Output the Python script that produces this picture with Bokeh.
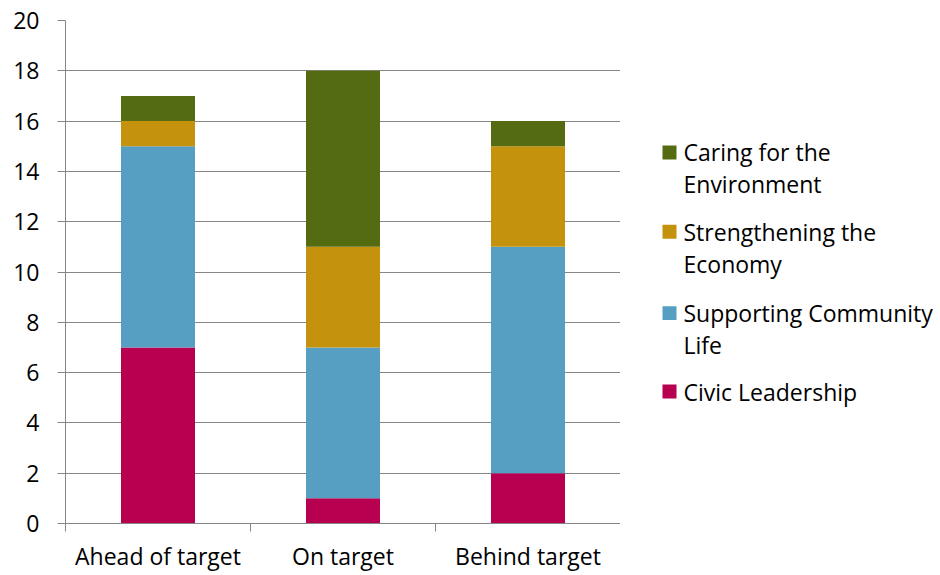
from bokeh.plotting import figure
from bokeh.layouts import row
from bokeh.models import FixedTicker, ColumnDataSource, Range1d
from bokeh.core.properties import value
from bokeh.embed import file_html
from bokeh.resources import INLINE

categories = ["Ahead of target", "On target", "Behind target"]
series_keys = ["civic", "supporting", "strengthening", "caring"]
legend_lines = [["Civic Leadership"],
                ["Supporting Community", "Life"],
                ["Strengthening the", "Economy"],
                ["Caring for the", "Environment"]]
civic = [7, 1, 2]
supporting = [8, 6, 9]
strengthening = [1, 4, 4]
caring = [1, 7, 1]
colors = ["#B7004F", "#579FC2", "#C5920E", "#546B12"]
y_ticks = list(range(0, 21, 2))

FONT = "Open Sans"
FSIZE = "23px"
GRAY = "#868686"
H = 570
TOP, BOTTOM = 20, 523

p = figure(frame_width=555, frame_height=BOTTOM - TOP, x_range=(0, 3),
           y_range=(0, 20), output_backend="svg", toolbar_location=None,
           min_border_left=65, min_border_right=0, min_border_top=TOP,
           min_border_bottom=H - BOTTOM)
p.outline_line_color = None
p.xgrid.grid_line_color = None
p.ygrid.grid_line_color = GRAY
p.ygrid.grid_line_width = 1

xs = [i + 0.5 for i in range(len(categories))]
src = ColumnDataSource(dict(x=xs, civic=civic, supporting=supporting,
                            strengthening=strengthening, caring=caring))
p.vbar_stack(series_keys, x="x", width=0.4, color=colors, line_color=None,
             source=src)

# y axis
p.yaxis.ticker = FixedTicker(ticks=y_ticks)
p.yaxis.axis_line_color = GRAY
p.yaxis.major_tick_line_color = GRAY
p.yaxis.major_tick_in = 0
p.yaxis.major_tick_out = 8
p.yaxis.minor_tick_line_color = None
p.yaxis.major_label_text_font = FONT
p.yaxis.major_label_text_font_size = FSIZE
p.yaxis.major_label_text_color = "#000000"
p.yaxis.major_label_standoff = 18

# x axis: labels at category centres, tick marks at category boundaries
p.xaxis.ticker = FixedTicker(ticks=xs, minor_ticks=[0, 1, 2, 3])
p.xaxis.major_label_overrides = {x: c for x, c in zip(xs, categories)}
p.xaxis.axis_line_color = GRAY
p.xaxis.major_tick_line_color = None
p.xaxis.major_tick_in = 0
p.xaxis.major_tick_out = 0
p.xaxis.minor_tick_line_color = GRAY
p.xaxis.minor_tick_in = 0
p.xaxis.minor_tick_out = 8
p.xaxis.major_label_text_font = FONT
p.xaxis.major_label_text_font_size = FSIZE
p.xaxis.major_label_text_color = "#000000"
p.xaxis.major_label_standoff = 8

# legend panel (pixel-like coordinates, y downward, frame aligned with main)
LW = 320
lg = figure(width=LW, height=H, x_range=Range1d(0, LW),
            y_range=Range1d(BOTTOM, TOP), output_backend="svg",
            toolbar_location=None, x_axis_location=None, y_axis_location=None,
            min_border_left=0, min_border_right=0,
            min_border_top=TOP, min_border_bottom=H - BOTTOM)
lg.outline_line_color = None
lg.xgrid.grid_line_color = None
lg.ygrid.grid_line_color = None

entry_top = [394, 315, 233, 153]  # first-line centres, civic..caring
sq_x, sq_y, sq_c = [], [], []
tx, ty, tt = [], [], []
for i, lines in enumerate(legend_lines):
    sq_x.append(49)
    sq_y.append(entry_top[i])
    sq_c.append(colors[i])
    for j, t in enumerate(lines):
        tx.append(63)
        ty.append(entry_top[i] + 32 * j)
        tt.append(t)
lg.rect(x=sq_x, y=sq_y, width=14, height=14, fill_color=sq_c, line_color=None)
lg.text(x=tx, y=ty, text=tt, text_font=value(FONT), text_font_size=FSIZE,
        text_baseline="middle", text_align="left", text_color="#000000")

layout = row(p, lg, spacing=0)
open("out.html", "w").write(file_html(layout, INLINE))
